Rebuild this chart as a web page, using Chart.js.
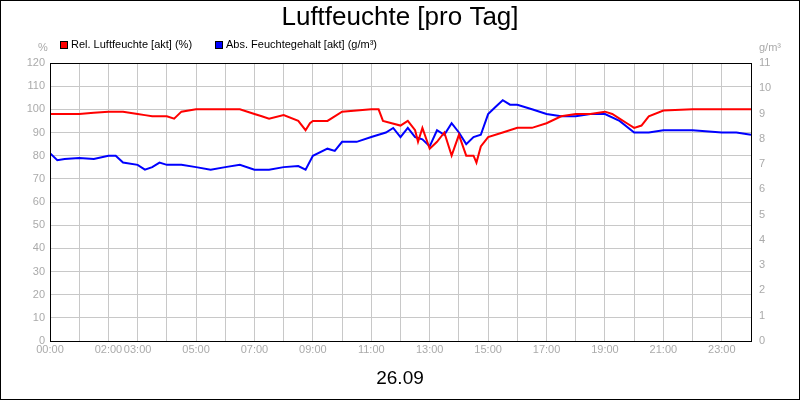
<!DOCTYPE html>
<html><head><meta charset="utf-8">
<script src="https://cdn.jsdelivr.net/npm/chart.js@4"></script>
<style>html,body{margin:0;padding:0;background:#fff}#w{width:800px;height:400px;position:relative}canvas{display:block}</style>
</head><body><div id="w"><canvas id="c" width="800" height="400"></canvas></div>
<script>
const relHours=[0,0.5,1,1.5,2,2.5,3,3.25,3.5,4,4.25,4.5,5,6,6.5,7,7.25,7.5,8,8.5,8.75,8.9,9,9.5,10,11,11.25,11.4,12,12.25,12.5,12.6,12.75,13,13.25,13.5,13.75,14,14.25,14.5,14.6,14.75,15,15.5,16,16.5,17,17.5,18,18.5,19,19.25,19.5,19.75,20,20.25,20.5,21,22,24];
const relValues=[98,98,98,98.5,99,99,98,97.5,97,97,96,99,100,100,100,98,97,96,97.5,95,91,94,95,95,99,100,100,95,93,95,91,86,92,83,86,90,80,89,80,80,77,84,88,90,92,92,94,97,98,98,99,98,96,94,92,93,97,99.5,100,100];
const absHours=[0,0.25,0.5,1,1.5,2,2.25,2.5,3,3.25,3.5,3.75,4,4.5,5,5.5,6,6.5,7,7.5,8,8.5,8.75,9,9.5,9.75,10,10.5,11,11.25,11.5,11.75,12,12.25,12.5,12.75,13,13.25,13.5,13.75,14,14.25,14.5,14.75,15,15.25,15.5,15.75,16,16.5,17,17.5,18,18.5,19,19.5,20,20.5,21,22,23,23.5,24];
const absValues=[7.43,7.15,7.2,7.24,7.2,7.33,7.33,7.06,6.97,6.78,6.88,7.06,6.97,6.97,6.88,6.78,6.88,6.97,6.78,6.78,6.88,6.92,6.78,7.33,7.61,7.52,7.88,7.88,8.07,8.16,8.25,8.43,8.07,8.43,8.07,7.98,7.7,8.34,8.16,8.62,8.25,7.79,8.07,8.16,8.98,9.26,9.53,9.35,9.35,9.17,8.98,8.89,8.89,8.98,8.98,8.71,8.25,8.25,8.34,8.34,8.25,8.25,8.16];
const shownHours=[0,2,3,5,7,9,11,13,15,17,19,21,23];
const pad=n=>String(n).padStart(2,'0')+':00';
const deco={id:'deco',afterDraw(ch){const c=ch.ctx,a=ch.chartArea;c.save();
c.strokeStyle='#000';c.lineWidth=1;c.strokeRect(0.5,0.5,799,399);c.strokeRect(a.left+0.5,a.top+0.5,a.right-a.left,a.bottom-a.top);
c.fillStyle='#000';c.textAlign='center';c.textBaseline='middle';c.font='26px Arial, "Liberation Sans"';c.fillText('Luftfeuchte [pro Tag]',400,18);
c.font='19px Arial, "Liberation Sans"';c.fillText('26.09',400,379);
c.font='11px Arial, "Liberation Sans"';c.textAlign='left';
c.fillStyle='#f00';c.fillRect(60,41,8,8);c.strokeStyle='#000';c.strokeRect(60.5,41.5,7,7);c.fillStyle='#000';c.fillText('Rel. Luftfeuchte [akt] (%)',71,45);
c.fillStyle='#00f';c.fillRect(215,41,8,8);c.strokeRect(215.5,41.5,7,7);c.fillStyle='#000';c.fillText('Abs. Feuchtegehalt [akt] (g/m³)',226,45);
c.fillStyle='#aaa';c.textAlign='center';c.fillText('%',43,48);c.fillText('g/m³',770,48);
c.restore();}};
new Chart(document.getElementById('c'),{type:'line',
data:{datasets:[
{data:relHours.map((h,i)=>({x:h,y:relValues[i]})),borderColor:'#f00',borderWidth:2,pointRadius:0,yAxisID:'y',tension:0},
{data:absHours.map((h,i)=>({x:h,y:absValues[i]})),borderColor:'#00f',borderWidth:2,pointRadius:0,yAxisID:'y1',tension:0}]},
options:{responsive:false,animation:false,layout:{padding:{top:63,left:0,right:0,bottom:0}},
plugins:{legend:{display:false},tooltip:{enabled:false}},
scales:{
x:{type:'linear',min:0,max:24,afterFit:s=>{s.height=59},afterBuildTicks:s=>{s.ticks=Array.from({length:25},(_,i)=>({value:i}))},
ticks:{autoSkip:false,maxRotation:0,color:'#aaa',font:{size:11,family:'Arial'},padding:2,callback:v=>shownHours.includes(v)?pad(v):''},
grid:{color:'#c8c8c8',drawTicks:false},border:{display:false}},
y:{position:'left',min:0,max:120,afterFit:s=>{s.width=50},ticks:{stepSize:10,color:'#aaa',font:{size:11,family:'Arial'},padding:5},grid:{color:'#c8c8c8',drawTicks:false},border:{display:false}},
y1:{position:'right',min:0,max:11,afterFit:s=>{s.width=49},ticks:{stepSize:1,color:'#aaa',font:{size:11,family:'Arial'},padding:8},grid:{display:false,drawTicks:false},border:{display:false}}}},
plugins:[deco]});
</script></body></html>
